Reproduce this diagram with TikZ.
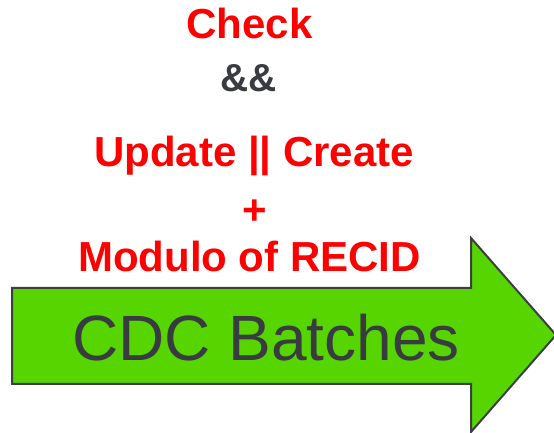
\documentclass[tikz,border=0pt]{standalone}
\usepackage{fontspec}
\setmainfont{Liberation Sans}
\definecolor{redtxt}{HTML}{FF0000}
\definecolor{graytxt}{HTML}{383B3F}
\definecolor{arrowfill}{HTML}{56D500}
\definecolor{arrowline}{HTML}{3C3F42}
\tikzset{
  boldred/.style={anchor=base, inner sep=0pt, text=redtxt,
    font=\fontsize{42}{42}\selectfont\bfseries},
  boldgray/.style={anchor=base, inner sep=0pt, text=graytxt,
    font=\fontsize{39}{39}\selectfont\bfseries},
  bigarrow/.style={fill=arrowfill, draw=arrowline, line width=2pt, line join=miter},
  arrowlabel/.style={anchor=base, inner sep=0pt, text=graytxt,
    font=\fontsize{64}{64}\selectfont}
}
\begin{document}
\begin{tikzpicture}[x=1pt,y=1pt]
  \useasboundingbox (0,0) rectangle (554,433);
  \clip (0,0) rectangle (554,433);
  % block arrow
  \draw[bigarrow] (12,145) -- (471,145) -- (471,195) -- (556,98)
    -- (471,1) -- (471,49) -- (12,49) -- cycle;
  \node[arrowlabel] (batches) at (266,72) {CDC Batches};
  % condition stack
  \node[boldred]  (check)  at (249.5,394) {Check};
  \node[boldgray] (and)    at (249,341)   {\&\&};
  \node[boldred]  (update) at (254,266)   {Update || Create};
  \node[boldred]  (plus)   at (255,208)   {+};
  \node[boldred]  (modulo) at (249.5,161) {Modulo of RECID};
\end{tikzpicture}
\end{document}
